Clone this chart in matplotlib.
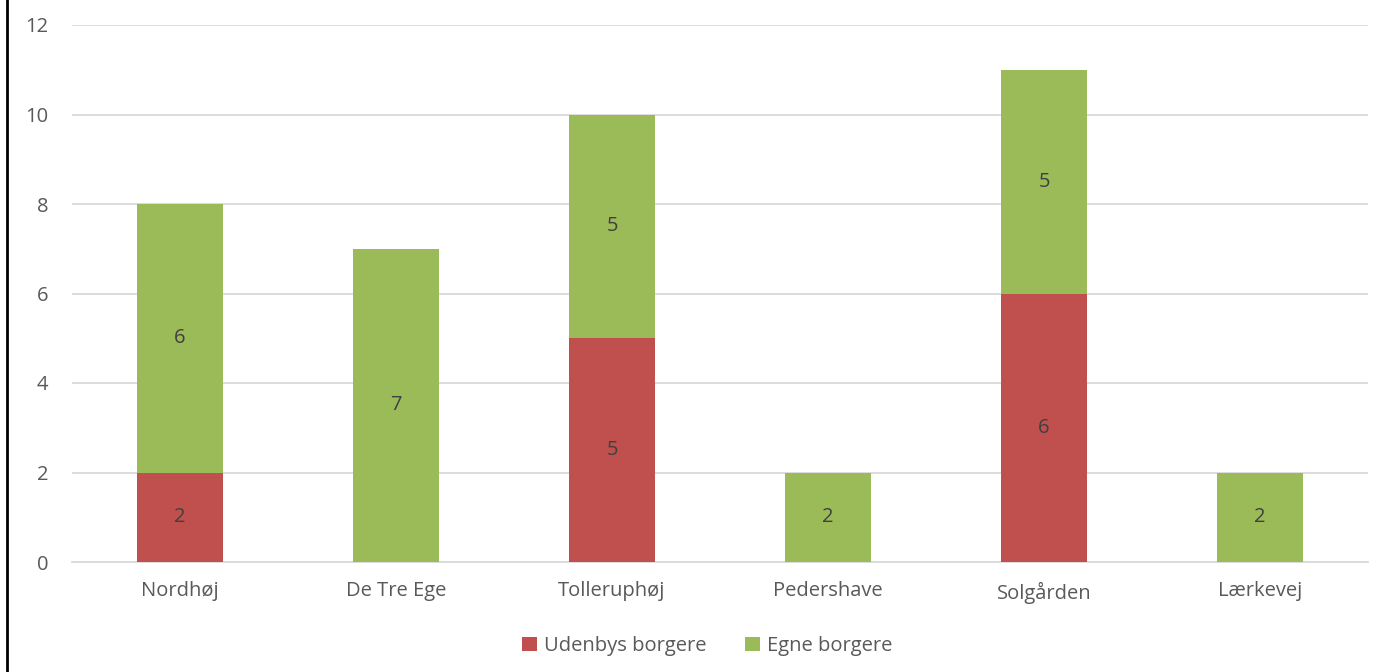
import matplotlib
matplotlib.use("Agg")
import matplotlib.pyplot as plt
import numpy as np
from matplotlib.lines import Line2D

categories = ["Nordhøj", "De Tre Ege", "Tolleruphøj", "Pedershave", "Solgården", "Lærkevej"]
udenbys = [2, 0, 5, 0, 6, 0]
egne = [6, 7, 5, 2, 5, 2]

red = "#c0504d"
green = "#9bbb59"
txt = "#595959"

plt.rcParams["font.family"] = ["Open Sans", "DejaVu Sans"]

fig = plt.figure(figsize=(13.89, 6.72), dpi=100)
ax = fig.add_axes([72 / 1389, 1 - 562 / 672, 1296 / 1389, 537 / 672])

x = np.arange(len(categories))
w = 0.4
b1 = ax.bar(x, udenbys, w, color=red, label="Udenbys borgere", zorder=3)
b2 = ax.bar(x, egne, w, bottom=udenbys, color=green, label="Egne borgere", zorder=3)

for i in range(len(categories)):
    if udenbys[i]:
        ax.text(x[i], udenbys[i] / 2, str(udenbys[i]), ha="center", va="center",
                fontsize=14.5, color="#404040", zorder=4)
    if egne[i]:
        ax.text(x[i], udenbys[i] + egne[i] / 2, str(egne[i]), ha="center", va="center",
                fontsize=14.5, color="#404040", zorder=4)

ax.set_xlim(-0.5, len(categories) - 0.5)
ax.set_ylim(0, 12)
ax.set_yticks(range(0, 13, 2))
ax.set_xticks(x)
ax.set_xticklabels(categories)
ax.grid(axis="y", color="#d9d9d9", linewidth=1.3, zorder=0)
for s in ["top", "right", "left"]:
    ax.spines[s].set_visible(False)
ax.spines["bottom"].set_color("#d9d9d9")
ax.spines["bottom"].set_linewidth(1.3)
ax.tick_params(axis="both", length=0, labelsize=14.5, colors=txt)
ax.tick_params(axis="y", pad=17)
ax.tick_params(axis="x", pad=14)

fig.legend(handles=[b1, b2], loc="center", bbox_to_anchor=(707 / 1389, 1 - 646 / 672), ncol=2,
           frameon=False, fontsize=14.5, labelcolor=txt, handlelength=0.75, handleheight=0.75,
           handletextpad=0.35, columnspacing=1.9)

fig.add_artist(Line2D([7.5 / 1389, 7.5 / 1389], [0, 1], color="black", linewidth=2,
                      transform=fig.transFigure))

fig.savefig("out.png", dpi=100)
